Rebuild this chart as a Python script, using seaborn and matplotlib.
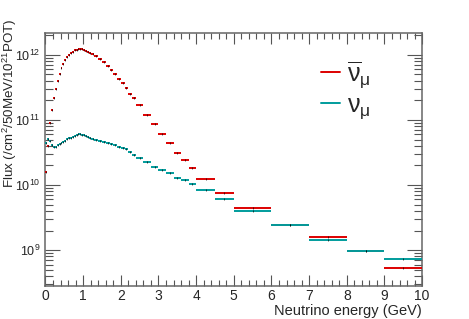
import numpy as np
import pandas as pd
import matplotlib
matplotlib.use("Agg")
import matplotlib.pyplot as plt
from matplotlib.lines import Line2D
from matplotlib.ticker import LogLocator, MultipleLocator
import seaborn as sns

# ---- data ----
bin_edges = [0.0, 0.05, 0.10, 0.15, 0.20, 0.25, 0.30, 0.35, 0.40, 0.45, 0.50,
             0.55, 0.60, 0.65, 0.70, 0.75, 0.80, 0.85, 0.90, 0.95, 1.00,
             1.05, 1.10, 1.15, 1.20,
             1.3, 1.4, 1.5, 1.6, 1.7, 1.8, 1.9, 2.0, 2.1, 2.2, 2.3, 2.4,
             2.6, 2.8, 3.0, 3.2, 3.4, 3.6, 3.8, 4.0,
             4.5, 5.0,
             6.0, 7.0, 8.0, 9.0, 10.0]

flux_numubar = [1.58e10, 3.98e10, 8.9e10, 1.41e11, 2.14e11, 2.95e11, 3.98e11, 5.01e11,
                6.17e11, 7.24e11, 8.32e11, 9.12e11, 1.0e12, 1.07e12, 1.12e12, 1.17e12,
                1.20e12, 1.22e12, 1.23e12, 1.22e12, 1.19e12, 1.16e12, 1.12e12, 1.08e12,
                1.035e12, 9.66e11, 8.71e11, 7.76e11, 6.76e11, 5.75e11, 5.01e11, 4.27e11,
                3.63e11, 3.09e11, 2.51e11, 2.14e11,
                1.70e11, 1.17e11, 8.51e10, 6.17e10, 4.37e10, 3.16e10, 2.45e10, 1.82e10,
                1.26e10, 7.59e9,
                4.37e9, 2.45e9, 1.57e9, 9.66e8, 5.37e8]

flux_numu = [4.37e10, 5.01e10, 4.79e10, 4.07e10, 3.80e10, 3.89e10, 4.07e10, 4.27e10,
             4.47e10, 4.57e10, 4.79e10, 5.01e10, 5.19e10, 5.37e10, 5.56e10, 5.75e10,
             5.89e10, 6.03e10, 6.03e10, 5.96e10, 5.82e10, 5.62e10, 5.50e10, 5.31e10,
             5.13e10, 4.95e10, 4.79e10, 4.57e10, 4.37e10, 4.22e10, 4.07e10, 3.89e10,
             3.72e10, 3.55e10, 3.24e10, 2.88e10,
             2.57e10, 2.24e10, 1.91e10, 1.70e10, 1.51e10, 1.29e10, 1.20e10, 1.035e10,
             8.32e9, 6.03e9,
             3.98e9, 2.40e9, 1.41e9, 9.66e8, 7.24e8]

series_labels = [r"$\overline{\mathregular{\nu}}_{\mathregular{\mu}}$",
                 r"$\mathregular{\nu}_{\mathregular{\mu}}$"]
series_colors = ["#dd0000", "#009c9c"]

lo = np.array(bin_edges[:-1])
hi = np.array(bin_edges[1:])
df = pd.concat([
    pd.DataFrame({"lo": lo, "hi": hi, "center": (lo + hi) / 2, "flux": flux_numubar, "nu": series_labels[0]}),
    pd.DataFrame({"lo": lo, "hi": hi, "center": (lo + hi) / 2, "flux": flux_numu, "nu": series_labels[1]}),
], ignore_index=True)

# ---- style ----
sns.set_style("ticks")
plt.rcParams["font.family"] = ["Liberation Sans", "DejaVu Sans"]
plt.rcParams["mathtext.fontset"] = "custom"
plt.rcParams["mathtext.rm"] = "Liberation Sans"
plt.rcParams["mathtext.it"] = "Liberation Sans"
plt.rcParams["mathtext.bf"] = "Liberation Sans:bold"
plt.rcParams["mathtext.default"] = "regular"

fig = plt.figure(figsize=(4.69, 3.19), dpi=100)
ax = fig.add_axes([0.097, 0.103, 0.803, 0.795])

for lab, col in zip(series_labels, series_colors):
    sub = df[df["nu"] == lab]
    ax.hlines(sub["flux"], sub["lo"], sub["hi"], colors=col, linewidth=1.4, zorder=3)
    sns.scatterplot(data=sub, x="center", y="flux", marker="|", color="black",
                    s=2, linewidth=0.45, ax=ax, zorder=4, legend=False)

ax.set_yscale("log")
ax.set_xlim(0, 10)
ax.set_ylim(2.8e8, 2.2e12)

ax.xaxis.set_major_locator(MultipleLocator(1))
ax.xaxis.set_minor_locator(MultipleLocator(0.2))
ax.yaxis.set_major_locator(LogLocator(base=10, numticks=20))
ax.yaxis.set_minor_locator(LogLocator(base=10, subs=np.arange(2, 10), numticks=20))

ax.tick_params(which="both", direction="in", top=True, right=True, labelsize=10,
               color="#555555", width=0.8)
ax.tick_params(axis="x", which="major", length=8, pad=2)
ax.tick_params(axis="x", which="minor", length=4)
ax.tick_params(axis="y", which="major", length=11, pad=3.5, labelsize=9)
ax.tick_params(axis="y", which="minor", length=5.5)
for s in ax.spines.values():
    s.set_color("#666666")
    s.set_linewidth(1.1)

ax.set_xlabel("Neutrino energy (GeV)", loc="right", fontsize=10.5, labelpad=0.5)
ax.set_ylabel(r"Flux (/cm$^{2}$/50MeV/10$^{21}$POT)", loc="top", fontsize=9.6)
ax.yaxis.set_label_coords(-0.07, 1.057)

handles = [Line2D([0], [0], color=c, lw=1.4) for c in series_colors]
fig.legend(handles, series_labels, loc="upper left", bbox_to_anchor=(0.663, 0.845),
           frameon=False, fontsize=18, handlelength=0.75, handletextpad=0.3,
           labelspacing=0.1, borderaxespad=0)

fig.savefig("out.png", dpi=100)
